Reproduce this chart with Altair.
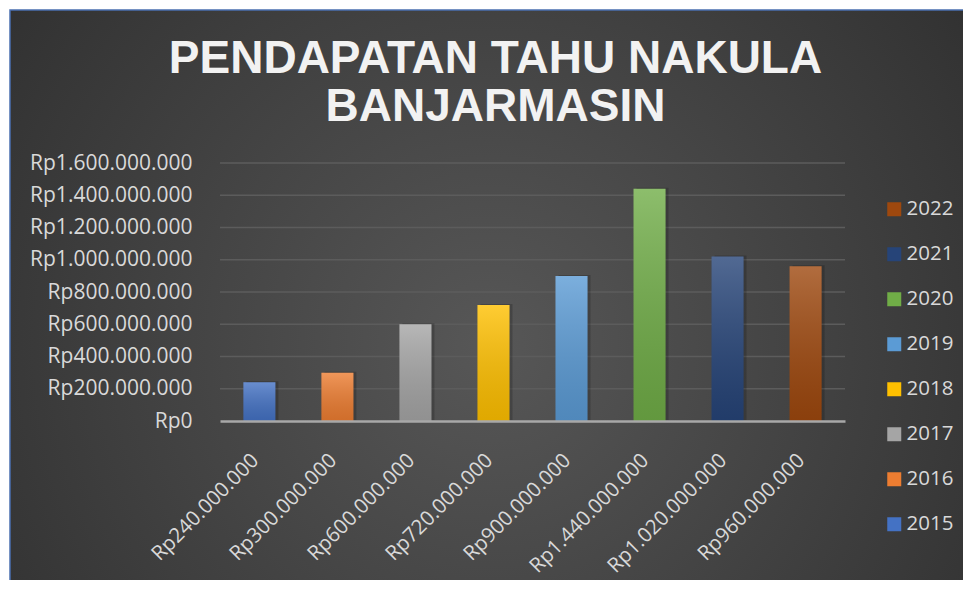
import altair as alt
import pandas as pd

years = ["2015", "2016", "2017", "2018", "2019", "2020", "2021", "2022"]
values = [240000000, 300000000, 600000000, 720000000, 900000000, 1440000000, 1020000000, 960000000]
colors = ["#4472C4", "#ED7D31", "#A5A5A5", "#FFC000", "#5B9BD5", "#70AD47", "#264478", "#9E480E"]
y_ticks = [0, 200000000, 400000000, 600000000, 800000000, 1000000000, 1200000000, 1400000000, 1600000000]
title_lines = ["PENDAPATAN TAHU NAKULA", "BANJARMASIN"]

labels = ["Rp" + f"{v:,}".replace(",", ".") for v in values]
df = pd.DataFrame({"year": years, "value": values, "label": labels})
grid_df = pd.DataFrame({"value": y_ticks[1:]})
bg_df = pd.DataFrame({"k": [0]})

W, H = 625, 258
FONT = "Open Sans"
LBL = "#d9d9d9"

x_enc = alt.X(
    "label:N", sort=labels, title=None,
    scale=alt.Scale(paddingInner=0.59, paddingOuter=0.3),
    axis=alt.Axis(labelAngle=-45, labelFont=FONT, labelFontSize=20.5, labelColor=LBL,
                  labelPadding=29, labelOffset=-11, ticks=False, domain=True,
                  domainColor="#a8a8a8", domainWidth=2.5, grid=False, zindex=1,
                  labelOverlap=False),
)
y_scale = alt.Scale(domain=[0, 1600000000], nice=False)
y_enc = alt.Y(
    "value:Q", title=None, scale=y_scale,
    axis=alt.Axis(values=y_ticks, labelFont=FONT, labelFontSize=21, labelColor=LBL,
                  labelPadding=28, ticks=False, domain=False, grid=False, zindex=1,
                  labelExpr="'Rp' + join(split(format(datum.value, ',d'), ','), '.')"),
)

bg = alt.Chart(bg_df).mark_rect(
    color=alt.RadialGradient(
        gradient="radial", x1=0.49, y1=0.54, x2=0.49, y2=0.54, r1=0, r2=0.72,
        stops=[alt.GradientStop(offset=0, color="#575757"),
               alt.GradientStop(offset=1, color="#2a2a2a")]),
    stroke="#4a6fb0", strokeWidth=1.5,
).encode(
    x=alt.value(-210), x2=alt.value(770),
    y=alt.value(-153), y2=alt.value(440),
)

grid = alt.Chart(grid_df).mark_rule(
    color="#5c5c5c", strokeWidth=1.5
).encode(y=y_enc)

shadow = alt.Chart(df).mark_bar(color="black", opacity=0.18, xOffset=3, yOffset=-1).encode(
    x=x_enc, y=y_enc
)

bars = alt.Chart(df).mark_bar().encode(
    x=x_enc, y=y_enc,
    color=alt.Color(
        "year:N",
        scale=alt.Scale(domain=list(reversed(years)), range=list(reversed(colors))),
        legend=alt.Legend(title=None, orient="none", legendX=664, legendY=36,
                          symbolType="square", symbolSize=196, symbolStrokeWidth=0,
                          labelFont=FONT, labelFontSize=20.5, labelColor=LBL,
                          labelOffset=2, rowPadding=24, zindex=1),
    ),
)

overlay = alt.Chart(df).mark_bar(
    color=alt.Gradient(
        gradient="linear", x1=0, y1=0, x2=0, y2=1,
        stops=[alt.GradientStop(offset=0, color="rgba(255,255,255,0.2)"),
               alt.GradientStop(offset=1, color="rgba(0,0,0,0.12)")])
).encode(x=x_enc, y=y_enc)

chart = alt.layer(bg, grid, shadow, bars, overlay).properties(
    width=W, height=H,
    autosize=alt.AutoSizeParams(type="none"),
    padding={"left": 212, "top": 155, "right": 118, "bottom": 159},
    background="white",
    title=alt.TitleParams(
        text=title_lines, font="Liberation Sans", fontSize=46, fontWeight="bold",
        color="#f2f2f2", anchor="middle", dx=-37, dy=168, offset=0, lineHeight=48,
        baseline="bottom", zindex=1,
    ),
).configure_view(stroke="transparent")

chart.save("out.html", embed_options={"renderer": "svg", "actions": False})
